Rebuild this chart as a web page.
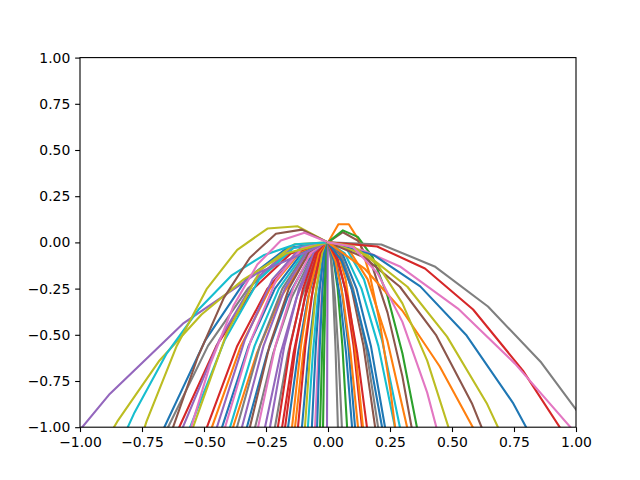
<!DOCTYPE html>
<html>
<head>
<meta charset="utf-8">
<script src="https://cdn.jsdelivr.net/npm/d3@7"></script>
<style>
  body { margin: 0; background: #fff; }
  svg { display: block; font-family: "DejaVu Sans", sans-serif; }
</style>
</head>
<body>
<script>
const width = 640;
const height = 480;
const margin = { left: 80, right: 64, top: 57.6, bottom: 52.8 };

const xTicks = [-1, -0.75, -0.5, -0.25, 0, 0.25, 0.5, 0.75, 1];
const yTicks = [-1, -0.75, -0.5, -0.25, 0, 0.25, 0.5, 0.75, 1];

const B = "#1f77b4", O = "#ff7f0e", G = "#2ca02c", R = "#d62728", P = "#9467bd",
  BR = "#8c564b", PK = "#e377c2", GY = "#7f7f7f", OL = "#bcbd22", C = "#17becf";

// one entry per trajectory: colour, x values, y values
const lineColors = [
  B, GY, R, P, C, OL, R, O, P, B, PK, C, O, GY, P, B, BR, GY, PK, P,
  P, GY, R, R, R, B, O, O, R, B, OL, C, B, PK, B, G, G, P,
  GY, GY, G, B, B, O, R, O, R, BR, GY, B, B, C, C, O,
  P, OL, C, OL, BR, PK, O, BR, G, GY, R, PK, B, OL, BR, O, OL, PK
];

const lineXs = [
  [0, -0.165, -0.33, -0.495, -0.66, -0.792],
  [0, -0.161, -0.323, -0.484, -0.645, -0.774],
  [0, -0.15, -0.3, -0.45, -0.6, -0.72],
  [0, -0.146, -0.293, -0.439, -0.585, -0.702],
  [0, -0.139, -0.278, -0.417, -0.556, -0.667],
  [0, -0.136, -0.272, -0.408, -0.544, -0.653],
  [0, -0.122, -0.244, -0.366, -0.488, -0.586],
  [0, -0.117, -0.234, -0.351, -0.468, -0.562],
  [0, -0.112, -0.224, -0.336, -0.448, -0.538],
  [0, -0.107, -0.214, -0.32, -0.427, -0.512],
  [0, -0.104, -0.208, -0.311, -0.415, -0.498],
  [0, -0.099, -0.198, -0.296, -0.395, -0.474],
  [0, -0.096, -0.192, -0.287, -0.383, -0.46],
  [0, -0.092, -0.184, -0.275, -0.367, -0.44],
  [0, -0.087, -0.174, -0.26, -0.347, -0.416],
  [0, -0.082, -0.164, -0.245, -0.327, -0.392],
  [0, -0.079, -0.158, -0.236, -0.315, -0.378],
  [0, -0.074, -0.147, -0.221, -0.294, -0.353],
  [0, -0.071, -0.141, -0.212, -0.282, -0.338],
  [0, -0.064, -0.127, -0.191, -0.254, -0.305],
  [0, -0.059, -0.117, -0.176, -0.234, -0.281],
  [0, -0.054, -0.107, -0.161, -0.214, -0.257],
  [0, -0.051, -0.101, -0.152, -0.202, -0.242],
  [0, -0.046, -0.093, -0.139, -0.185, -0.222],
  [0, -0.043, -0.087, -0.13, -0.173, -0.208],
  [0, -0.04, -0.081, -0.121, -0.161, -0.193],
  [0, -0.036, -0.073, -0.109, -0.145, -0.174],
  [0, -0.033, -0.067, -0.1, -0.133, -0.16],
  [0, -0.03, -0.061, -0.091, -0.121, -0.145],
  [0, -0.026, -0.053, -0.079, -0.105, -0.126],
  [0, -0.023, -0.047, -0.07, -0.093, -0.112],
  [0, -0.02, -0.041, -0.061, -0.081, -0.097],
  [0, -0.016, -0.033, -0.049, -0.065, -0.078],
  [0, -0.013, -0.026, -0.039, -0.052, -0.062],
  [0, -0.011, -0.022, -0.033, -0.044, -0.053],
  [0, -0.008, -0.016, -0.024, -0.032, -0.038],
  [0, -0.005, -0.01, -0.015, -0.02, -0.024],
  [0, -0.001, -0.002, -0.003, -0.004, -0.005],
  [0, 0.01, 0.02, 0.03, 0.04, 0.048],
  [0, 0.014, 0.028, 0.042, 0.056, 0.067],
  [0, 0.019, 0.039, 0.058, 0.077, 0.092],
  [0, 0.024, 0.049, 0.073, 0.097, 0.116],
  [0, 0.027, 0.055, 0.082, 0.109, 0.131],
  [0, 0.03, 0.061, 0.091, 0.121, 0.145],
  [0, 0.034, 0.069, 0.103, 0.137, 0.164],
  [0, 0.035, 0.071, 0.106, 0.141, 0.169],
  [0, 0.039, 0.079, 0.118, 0.157, 0.188],
  [0, 0.048, 0.095, 0.143, 0.19, 0.228],
  [0, 0.051, 0.101, 0.152, 0.202, 0.242],
  [0, 0.055, 0.109, 0.164, 0.218, 0.262],
  [0, 0.058, 0.115, 0.173, 0.23, 0.276],
  [0, 0.068, 0.135, 0.203, 0.27, 0.324],
  [0, 0.073, 0.145, 0.218, 0.29, 0.348],
  [0, 0.08, 0.16, 0.239, 0.319, 0.383],
  [0, -0.29, -0.585, -0.88, -1.17],
  [0, -0.17, -0.34, -0.51, -0.68, -0.85, -1.02],
  [0, -0.13, -0.26, -0.39, -0.52, -0.65, -0.78, -0.91],
  [0, -0.122, -0.244, -0.366, -0.488, -0.61, -0.732, -0.854],
  [0, -0.105, -0.21, -0.315, -0.42, -0.525, -0.63, -0.735],
  [0, -0.095, -0.19, -0.285, -0.38, -0.475, -0.57],
  [0, 0.042, 0.084, 0.126, 0.168, 0.21, 0.252, 0.294],
  [0, 0.06, 0.12, 0.18, 0.24, 0.3, 0.36],
  [0, 0.06, 0.12, 0.18, 0.24, 0.3, 0.36, 0.42],
  [0, 0.215, 0.43, 0.645, 0.86, 1.075],
  [0, 0.198, 0.391, 0.585, 0.786, 0.98],
  [0, 0.145, 0.29, 0.524, 0.754, 0.984, 1.214],
  [0, 0.186, 0.372, 0.559, 0.745, 0.931],
  [0, 0.16, 0.32, 0.48, 0.64, 0.8],
  [0, 0.145, 0.29, 0.435, 0.58, 0.725],
  [0, 0.15, 0.3, 0.45, 0.6],
  [0, 0.1, 0.2, 0.3, 0.4, 0.5],
  [0, 0.1, 0.2, 0.3, 0.4, 0.5]
];

const lineYs = [
  [0, -0.03, -0.2, -0.53, -1, -1.49],
  [0, -0.06, -0.25, -0.56, -1, -1.44],
  [0, -0.06, -0.25, -0.56, -1, -1.44],
  [0, -0.03, -0.2, -0.53, -1, -1.49],
  [0, -0.03, -0.2, -0.53, -1, -1.49],
  [0, -0.01, -0.15, -0.49, -1, -1.54],
  [0, -0.06, -0.25, -0.56, -1, -1.44],
  [0, -0.06, -0.25, -0.56, -1, -1.44],
  [0, -0.03, -0.2, -0.53, -1, -1.49],
  [0, -0.06, -0.25, -0.56, -1, -1.44],
  [0, -0.03, -0.2, -0.53, -1, -1.49],
  [0, -0.06, -0.25, -0.56, -1, -1.44],
  [0, -0.1, -0.3, -0.6, -1, -1.39],
  [0, -0.06, -0.25, -0.56, -1, -1.44],
  [0, -0.06, -0.25, -0.56, -1, -1.44],
  [0, -0.1, -0.3, -0.6, -1, -1.39],
  [0, -0.06, -0.25, -0.56, -1, -1.44],
  [0, -0.1, -0.3, -0.6, -1, -1.39],
  [0, -0.06, -0.25, -0.56, -1, -1.44],
  [0, -0.1, -0.3, -0.6, -1, -1.39],
  [0, -0.06, -0.25, -0.56, -1, -1.44],
  [0, -0.1, -0.3, -0.6, -1, -1.39],
  [0, -0.06, -0.25, -0.56, -1, -1.44],
  [0, -0.1, -0.3, -0.6, -1, -1.39],
  [0, -0.06, -0.25, -0.56, -1, -1.44],
  [0, -0.1, -0.3, -0.6, -1, -1.39],
  [0, -0.06, -0.25, -0.56, -1, -1.44],
  [0, -0.1, -0.3, -0.6, -1, -1.39],
  [0, -0.06, -0.25, -0.56, -1, -1.44],
  [0, -0.1, -0.3, -0.6, -1, -1.39],
  [0, -0.06, -0.25, -0.56, -1, -1.44],
  [0, -0.1, -0.3, -0.6, -1, -1.39],
  [0, -0.06, -0.25, -0.56, -1, -1.44],
  [0, -0.1, -0.3, -0.6, -1, -1.39],
  [0, -0.06, -0.25, -0.56, -1, -1.44],
  [0, -0.1, -0.3, -0.6, -1, -1.39],
  [0, -0.06, -0.25, -0.56, -1, -1.44],
  [0, -0.06, -0.25, -0.56, -1, -1.44],
  [0, -0.06, -0.25, -0.56, -1, -1.44],
  [0, -0.1, -0.3, -0.6, -1, -1.39],
  [0, -0.06, -0.25, -0.56, -1, -1.44],
  [0, -0.1, -0.3, -0.6, -1, -1.39],
  [0, -0.06, -0.25, -0.56, -1, -1.44],
  [0, -0.1, -0.3, -0.6, -1, -1.39],
  [0, -0.06, -0.25, -0.56, -1, -1.44],
  [0, -0.03, -0.2, -0.53, -1, -1.49],
  [0, -0.1, -0.3, -0.6, -1, -1.39],
  [0, -0.06, -0.25, -0.56, -1, -1.44],
  [0, -0.06, -0.25, -0.56, -1, -1.44],
  [0, -0.1, -0.3, -0.6, -1, -1.39],
  [0, -0.06, -0.25, -0.56, -1, -1.44],
  [0, -0.06, -0.25, -0.56, -1, -1.44],
  [0, -0.03, -0.2, -0.53, -1, -1.49],
  [0, -0.03, -0.2, -0.53, -1, -1.49],
  [0, -0.17, -0.44, -0.82, -1.29],
  [0, -0.06, -0.2, -0.39, -0.64, -0.97, -1.36],
  [0, -0.01, -0.07, -0.18, -0.36, -0.6, -0.92, -1.3],
  [0, 0.087, 0.075, -0.04, -0.25, -0.56, -0.97, -1.48],
  [0, 0.069, 0.047, -0.083, -0.3, -0.62, -1.02, -1.52],
  [0, 0.052, 0.01, -0.12, -0.34, -0.66, -1.08],
  [0, 0.098, 0.098, 0.008, -0.172, -0.442, -0.802, -1.252],
  [0, 0.055, 0.01, -0.135, -0.38, -0.725, -1.17],
  [0, 0.065, 0.03, -0.08, -0.29, -0.6, -1.01, -1.52],
  [0, -0.011, -0.13, -0.347, -0.65, -1.04],
  [0, -0.022, -0.141, -0.363, -0.694, -1.094],
  [0, -0.045, -0.13, -0.358, -0.656, -1.01, -1.42],
  [0, -0.07, -0.238, -0.504, -0.867, -1.327],
  [0, -0.07, -0.24, -0.51, -0.87, -1.33],
  [0, -0.08, -0.24, -0.5, -0.87, -1.35],
  [0, -0.145, -0.37, -0.67, -1.04],
  [0, -0.02, -0.12, -0.33, -0.64, -1.06],
  [0, -0.024, -0.167, -0.43, -0.813, -1.32]
];

const svg = d3
  .select("body")
  .append("svg")
  .attr("width", width)
  .attr("height", height);

const xScale = d3
  .scaleLinear()
  .domain([-1, 1])
  .range([margin.left, width - margin.right]);
const yScale = d3
  .scaleLinear()
  .domain([-1, 1])
  .range([height - margin.bottom, margin.top]);

svg
  .append("clipPath")
  .attr("id", "plot-area")
  .append("rect")
  .attr("x", xScale(-1))
  .attr("y", yScale(1))
  .attr("width", xScale(1) - xScale(-1))
  .attr("height", yScale(-1) - yScale(1));

const line = d3
  .line()
  .x((d) => xScale(d[0]))
  .y((d) => yScale(d[1]));

svg
  .append("g")
  .attr("clip-path", "url(#plot-area)")
  .selectAll("path")
  .data(lineXs.map((xs, i) => xs.map((x, j) => [x, lineYs[i][j]])))
  .enter()
  .append("path")
  .attr("d", line)
  .attr("fill", "none")
  .attr("stroke", (d, i) => lineColors[i])
  .attr("stroke-width", 2.1)
  .attr("stroke-linejoin", "round")
  .attr("stroke-linecap", "square");

// axes
const fmt = d3.format(".2f");
const xAxis = d3
  .axisBottom(xScale)
  .tickValues(xTicks)
  .tickFormat(fmt)
  .tickSizeOuter(0)
  .tickSize(4.86)
  .tickPadding(4.86);
const yAxis = d3
  .axisLeft(yScale)
  .tickValues(yTicks)
  .tickFormat(fmt)
  .tickSizeOuter(0)
  .tickSize(4.86)
  .tickPadding(4.86);

[
  svg.append("g").attr("transform", `translate(0, ${yScale(-1)})`).call(xAxis),
  svg.append("g").attr("transform", `translate(${xScale(-1)}, 0)`).call(yAxis),
].forEach((g) => {
  g.select(".domain").remove();
  g.selectAll("line").attr("stroke", "#000").attr("stroke-width", 1.1);
  g.selectAll("text")
    .attr("fill", "#000")
    .style("font-size", "13.9px")
    .style("font-family", "DejaVu Sans");
});

svg
  .append("rect")
  .attr("x", xScale(-1))
  .attr("y", yScale(1))
  .attr("width", xScale(1) - xScale(-1))
  .attr("height", yScale(-1) - yScale(1))
  .attr("fill", "none")
  .attr("stroke", "#000")
  .attr("stroke-width", 1.1);
</script>
</body>
</html>
